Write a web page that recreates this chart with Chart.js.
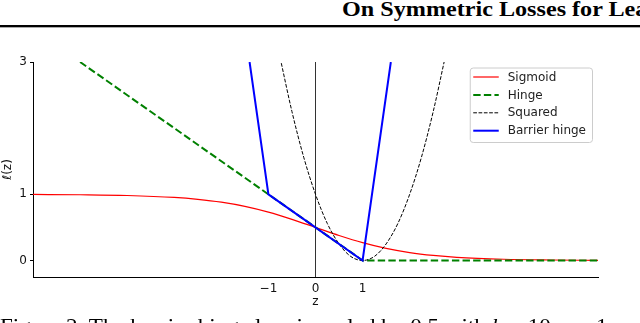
<!DOCTYPE html>
<html>
<head>
<meta charset="utf-8">
<script src="https://cdn.jsdelivr.net/npm/chart.js@4.4.1/dist/chart.umd.min.js"></script>
<style>
  html, body { margin: 0; padding: 0; background: #fff; }
  body { width: 640px; height: 323px; overflow: hidden; position: relative; }
  #header { position: absolute; left: 342px; top: -1px; font: bold 21px/21px "Liberation Serif", "Times New Roman", serif; white-space: nowrap; color: #000; transform: scaleX(1.15); transform-origin: 0 0; }
  #rule { position: absolute; left: 0; top: 25px; width: 640px; height: 2px; background: #000; }
  #rule2 { position: absolute; left: 0; top: 27px; width: 640px; height: 1px; background: #aaa; }
  #caption { position: absolute; left: 0; top: 316px; font: 21px/21px "Liberation Serif", "Times New Roman", serif; white-space: nowrap; color: #000; transform: scaleX(1.1); transform-origin: 0 0; }
  #lossChart { position: absolute; left: 0; top: 0; }
</style>
</head>
<body>
<div id="header">On Symmetric Losses for Learning from Corrupted Labels</div>
<div id="rule"></div>
<div id="rule2"></div>
<canvas id="lossChart" width="640" height="323"></canvas>
<div id="caption">Figure 2. The barrier hinge loss is scaled by 0.5 with <i>b</i> = 10, <i>r</i> = 1</div>
<script>
// values
const zSigmoid = [-6, -5, -4, -3, -2.5, -2, -1.5, -1, -0.5, 0, 0.5, 1, 1.5, 2, 2.5, 3, 4, 5, 6];
const sigmoidLoss = [0.998, 0.993, 0.982, 0.953, 0.924, 0.881, 0.818, 0.731, 0.622, 0.5, 0.378, 0.269, 0.182, 0.119, 0.076, 0.047, 0.018, 0.007, 0.002];

const zHinge = [-5, 1, 6];
const hingeLoss = [3, 0, 0];

const zSquared = [-0.75, -0.5, -0.25, 0, 0.25, 0.5, 0.75, 1, 1.25, 1.5, 1.75, 2, 2.25, 2.5, 2.75];
const squaredLoss = [3.06, 2.25, 1.56, 1, 0.56, 0.25, 0.06, 0, 0.06, 0.25, 0.56, 1, 1.56, 2.25, 3.06];

const zBarrier = [-1.4, -1, 1, 1.6];
const barrierLoss = [3, 1, 0, 3];

const zZeroLine = [0, 0];
const zeroLineY = [-0.25, 3];

const xTicks = [-1, 0, 1];
const yTicks = [0, 1, 3];

const FONT = "'DejaVu Sans', sans-serif";

const pts = (xs, ys) => xs.map((x, i) => ({ x: x, y: ys[i] }));

// matplotlib style legend drawn inside the plot area
const boxLegend = {
    id: 'boxLegend',
    afterDraw(chart) {
        const ctx = chart.ctx;
        const area = chart.chartArea;
        const items = chart.data.datasets.filter(d => d.inLegend);
        ctx.save();
        ctx.font = '12px ' + FONT;
        let maxW = 0;
        items.forEach(d => { maxW = Math.max(maxW, ctx.measureText(d.label).width); });
        const w = 38 + maxW + 6;
        const h = 74.5;
        const left = area.right - 6 - w;
        const top = area.top + 5.5;
        ctx.beginPath();
        ctx.roundRect(left + 0.5, top + 0.5, w, h, 3);
        ctx.fillStyle = 'rgba(255,255,255,0.85)';
        ctx.fill();
        ctx.strokeStyle = '#cccccc';
        ctx.lineWidth = 1;
        ctx.stroke();
        items.forEach((d, i) => {
            const y = top + 9.5 + i * 17.9;
            ctx.beginPath();
            ctx.setLineDash(d.borderDash || []);
            ctx.strokeStyle = d.borderColor;
            ctx.lineWidth = d.borderWidth;
            ctx.moveTo(left + 3.5, y);
            ctx.lineTo(left + 29, y);
            ctx.stroke();
            ctx.setLineDash([]);
            ctx.fillStyle = '#222';
            ctx.textBaseline = 'middle';
            ctx.fillText(d.label, left + 38, y + 0.5);
        });
        ctx.restore();
    }
};

const ctx = document.getElementById('lossChart').getContext('2d');
const lossChart = new Chart(ctx, {
    type: 'line',
    data: {
        datasets: [
            {
                label: 'Sigmoid', inLegend: true, order: 4,
                data: pts(zSigmoid, sigmoidLoss),
                borderColor: '#ff0000', borderWidth: 1.2,
                cubicInterpolationMode: 'monotone'
            },
            {
                label: 'Hinge', inLegend: true, order: 3,
                data: pts(zHinge, hingeLoss),
                borderColor: '#008000', borderWidth: 2, borderDash: [7.4, 3.2]
            },
            {
                label: 'Squared', inLegend: true, order: 2,
                data: pts(zSquared, squaredLoss),
                borderColor: '#000000', borderWidth: 1, borderDash: [3.7, 1.6],
                cubicInterpolationMode: 'monotone'
            },
            {
                label: 'Barrier hinge', inLegend: true, order: 1,
                data: pts(zBarrier, barrierLoss),
                borderColor: '#0000ff', borderWidth: 2
            },
            {
                label: 'z = 0', inLegend: false, order: 5,
                data: pts(zZeroLine, zeroLineY),
                borderColor: '#333333', borderWidth: 1
            }
        ]
    },
    options: {
        responsive: false,
        animation: false,
        events: [],
        layout: { padding: { left: 0, top: 62, right: 42, bottom: 0 } },
        elements: { point: { radius: 0 }, line: { fill: false } },
        plugins: {
            legend: { display: false },
            tooltip: { enabled: false }
        },
        scales: {
            x: {
                type: 'linear',
                min: -6,
                max: 6,
                afterBuildTicks: (scale) => { scale.ticks = xTicks.map(v => ({ value: v })); },
                afterFit: (scale) => { scale.height = 46; },
                grid: { display: false },
                border: { display: true, color: '#000', width: 1 },
                ticks: {
                    color: '#111',
                    padding: -3,
                    font: { family: FONT, size: 12 },
                    callback: (v) => String(v).replace('-', '\u2212')
                },
                title: {
                    display: true,
                    text: 'z',
                    color: '#111',
                    font: { family: FONT, size: 12 },
                    padding: { top: 0, bottom: 14 }
                }
            },
            y: {
                type: 'linear',
                min: -0.25,
                max: 3,
                afterBuildTicks: (scale) => { scale.ticks = yTicks.map(v => ({ value: v })); },
                afterFit: (scale) => { scale.width = 33; },
                grid: { display: true, drawOnChartArea: false, drawTicks: true, tickLength: 3, color: '#000' },
                border: { display: true, color: '#000', width: 1 },
                ticks: {
                    color: '#111',
                    padding: 3,
                    font: { family: FONT, size: 12 }
                },
                title: {
                    display: true,
                    text: 'ℓ(z)',
                    color: '#111',
                    font: { family: FONT, size: 12 },
                    padding: { top: 1, bottom: 0 }
                }
            }
        }
    },
    plugins: [boxLegend]
});
</script>
</body>
</html>
